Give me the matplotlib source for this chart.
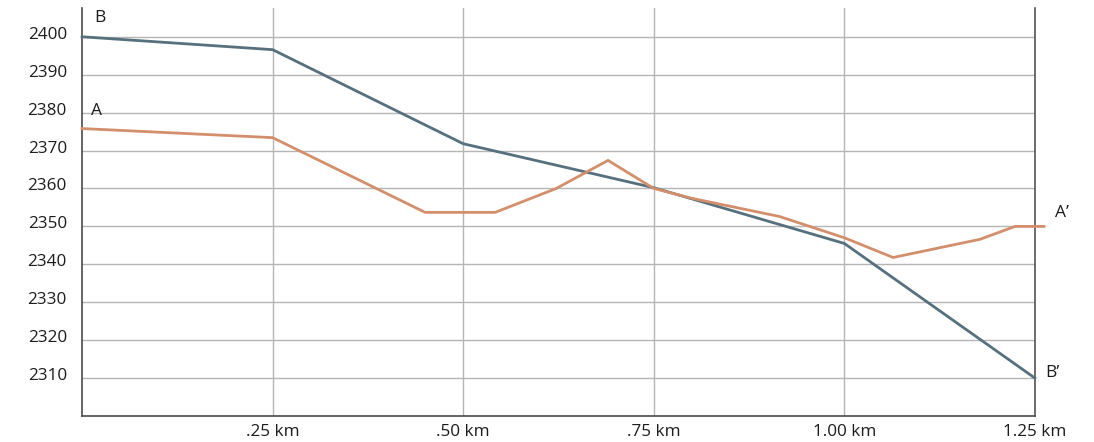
import matplotlib
matplotlib.use("Agg")
import matplotlib.pyplot as plt
import matplotlib.transforms as mtransforms

# profile B-B'
b_dist = [0.0, 0.25, 0.50, 0.75, 1.00, 1.25]
b_elev = [2400, 2396.6, 2371.8, 2360.2, 2345.5, 2310]

# profile A-A'
a_dist = [0.0, 0.25, 0.45, 0.542, 0.622, 0.69, 0.75, 0.80, 0.915, 1.00, 1.064, 1.178, 1.224, 1.262]
a_elev = [2375.8, 2373.4, 2353.7, 2353.7, 2360.0, 2367.4, 2360.0, 2357.4, 2352.6, 2347.0, 2341.8, 2346.6, 2350.0, 2350.0]

x_ticks = [0.25, 0.50, 0.75, 1.00, 1.25]
x_labels = [".25 km", ".50 km", ".75 km", "1.00 km", "1.25 km"]
y_ticks = list(range(2310, 2401, 10))

plt.rcParams['font.family'] = ['Open Sans', 'DejaVu Sans']
plt.rcParams['text.color'] = "#1c1c1c"
plt.rcParams['xtick.color'] = "#1c1c1c"
plt.rcParams['ytick.color'] = "#1c1c1c"

fig = plt.figure(figsize=(10.94, 4.42), dpi=100)
ax = fig.add_axes([0.075, 0.0588, 0.871, 0.9232])

ax.set_xlim(0, 1.25)
ax.set_ylim(2300, 2407.6)

ax.plot(b_dist, b_elev, color="#56707d", lw=2.0, clip_on=False, zorder=3)
ax.plot(a_dist, a_elev, color="#d38f6c", lw=2.0, clip_on=False, zorder=3)

ax.text(0.016, 2404.9, "B", fontsize=12.5, ha="left", va="center")
ax.text(0.012, 2380.3, "A", fontsize=12.5, ha="left", va="center")
ax.text(1.276, 2353.6, "A\u2019", fontsize=12.5, ha="left", va="center")
ax.text(1.263, 2311.4, "B\u2019", fontsize=12.5, ha="left", va="center")

ax.set_xticks(x_ticks)
ax.set_xticklabels(x_labels)
ax.set_yticks(y_ticks)
ax.tick_params(axis="both", length=0, labelsize=12.3)
ax.tick_params(axis="y", pad=11)
ax.tick_params(axis="x", pad=6)

# y labels sit a little above their gridline
shift = mtransforms.ScaledTranslation(0, 4 / 100, fig.dpi_scale_trans)
for lbl in ax.get_yticklabels():
    lbl.set_transform(lbl.get_transform() + shift)

ax.grid(True, color="#b5b5b5", lw=1.0)
ax.set_axisbelow(True)

ax.spines["top"].set_visible(False)
for side in ["left", "bottom", "right"]:
    ax.spines[side].set_color("#4a4a4a")
    ax.spines[side].set_linewidth(1.2)
ax.spines["right"].set_color("#555555")

fig.savefig("out.png", dpi=100)
